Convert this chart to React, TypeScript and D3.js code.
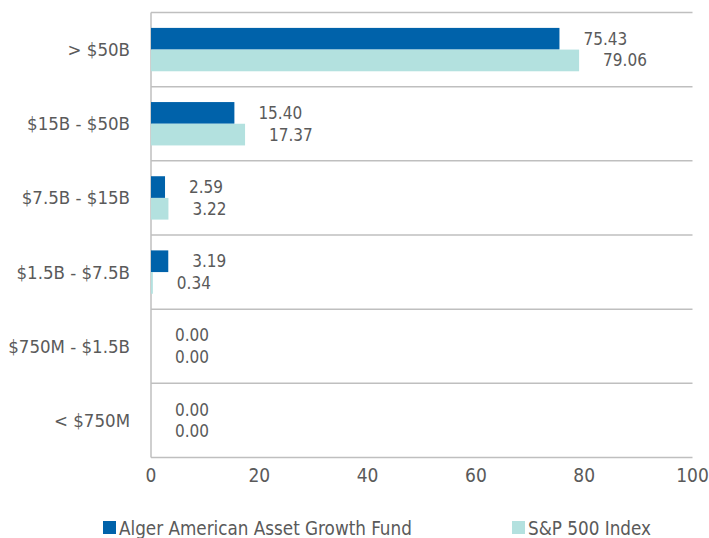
import React from "react";
import * as d3 from "d3";

const categories = ["> $50B", "$15B - $50B", "$7.5B - $15B", "$1.5B - $7.5B", "$750M - $1.5B", "< $750M"];
const fundValues = [75.43, 15.4, 2.59, 3.19, 0.0, 0.0];
const indexValues = [79.06, 17.37, 3.22, 0.34, 0.0, 0.0];
const xTicks = [0, 20, 40, 60, 80, 100];
const seriesNames = ["Alger American Asset Growth Fund", "S&P 500 Index"];
const colors = ["#0062AA", "#B3E1DF"];

const W = 709, H = 538;
const left = 151, right = 692.5, top = 12.5, bottom = 457.5;
const font = "'Liberation Sans Narrow', 'DejaVu Sans Condensed', 'Roboto', sans-serif";

export default function App() {
  const x = d3.scaleLinear().domain([0, 100]).range([left, right]);
  const y = d3.scaleBand<string>().domain(categories).range([top, bottom]);
  const inner = d3.scaleBand<string>().domain(["f", "i"]).range([0, y.bandwidth()]).paddingOuter(0.71).paddingInner(0);
  const textColor = "#5a5a5a";
  return (
    <svg width={W} height={H} style={{ position: "absolute", left: 0, top: 0, background: "#fff" }}>
      {y.domain().map((c) => (
        <line key={"g" + c} x1={left} x2={right} y1={y(c)!} y2={y(c)!} stroke="#BFBFBF" strokeWidth={1.5} />
      ))}
      <line x1={left} x2={right} y1={bottom} y2={bottom} stroke="#BFBFBF" strokeWidth={1.5} />
      <line x1={left} x2={left} y1={top} y2={bottom} stroke="#BFBFBF" strokeWidth={1.5} />
      {categories.map((c, i) => {
        const y0 = y(c)!;
        const rows = [
          { k: "f", v: fundValues[i], col: colors[0] },
          { k: "i", v: indexValues[i], col: colors[1] },
        ];
        return (
          <g key={c}>
            <text x={130} y={y0 + y.bandwidth() / 2} textAnchor="end" dominantBaseline="central" fontFamily={font} fontSize={18.5} fill={textColor}>{c}</text>
            {rows.map((r) => {
              const by = y0 + inner(r.k)!;
              const bh = inner.bandwidth();
              return (
                <g key={r.k}>
                  <rect x={x(0)} y={by} width={x(r.v) - x(0)} height={bh} fill={r.col} />
                  <text x={x(r.v) + 24} y={by + bh / 2} dominantBaseline="central" fontFamily={font} fontSize={17} fill={textColor}>{r.v.toFixed(2)}</text>
                </g>
              );
            })}
          </g>
        );
      })}
      {xTicks.map((t) => (
        <text key={t} x={x(t)} y={482} textAnchor="middle" fontFamily={font} fontSize={19} fill={textColor}>{t}</text>
      ))}
      <rect x={103} y={521} width={13} height={13} fill={colors[0]} />
      <text x={119} y={528} dominantBaseline="central" fontFamily={font} fontSize={18.7} fill={textColor}>{seriesNames[0]}</text>
      <rect x={512} y={521} width={13} height={13} fill={colors[1]} />
      <text x={528} y={528} dominantBaseline="central" fontFamily={font} fontSize={18.7} fill={textColor}>{seriesNames[1]}</text>
    </svg>
  );
}
